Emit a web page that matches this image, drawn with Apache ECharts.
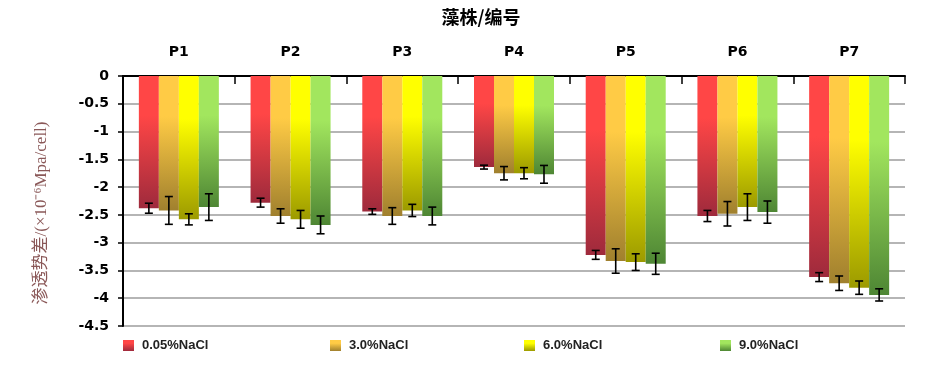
<!DOCTYPE html>
<html>
<head>
<meta charset="utf-8">
<script src="https://cdn.jsdelivr.net/npm/echarts@6/dist/echarts.min.js"></script>
<style>
html,body{margin:0;padding:0;background:#fff;}
#chart{width:932px;height:389px;}
</style>
</head>
<body>
<div id="chart"></div>
<script>
const categories = ['P1','P2','P3','P4','P5','P6','P7'];
const seriesNames = ['0.05%NaCl','3.0%NaCl','6.0%NaCl','9.0%NaCl'];
const yTicks = { min: -4.5, max: 0, interval: 0.5 };

const vals005 = [-2.38, -2.28, -2.44, -1.64, -3.22, -2.52, -3.62];
const vals30  = [-2.42, -2.52, -2.52, -1.75, -3.33, -2.48, -3.73];
const vals60  = [-2.58, -2.58, -2.42, -1.75, -3.35, -2.36, -3.81];
const vals90  = [-2.36, -2.68, -2.52, -1.77, -3.38, -2.45, -3.94];

const err005 = [0.09, 0.08, 0.05, 0.035, 0.08, 0.10, 0.08];
const err30  = [0.25, 0.13, 0.15, 0.12, 0.22, 0.22, 0.13];
const err60  = [0.10, 0.16, 0.11, 0.10, 0.15, 0.24, 0.12];
const err90  = [0.24, 0.16, 0.16, 0.16, 0.19, 0.20, 0.11];

const allVals = [vals005, vals30, vals60, vals90];
const allErrs = [err005, err30, err60, err90];

const gradStops = [
  ['#ff4646', '#9e2a3c'],
  ['#ffcb45', '#a0802e'],
  ['#ffff00', '#9c9a00'],
  ['#a2e65e', '#4e8634']
];
const legendLeft = [123, 330, 524, 720];

const BAR_W = 20;
const chart = echarts.init(document.getElementById('chart'), null, {renderer:'canvas'});

const series = [];
allVals.forEach((v, i) => {
  series.push({
    name: seriesNames[i],
    type: 'bar',
    data: v,
    barWidth: BAR_W,
    barGap: '0%',
    itemStyle: {
      color: new echarts.graphic.LinearGradient(0, 0, 0, 1, [
        {offset: 0, color: gradStops[i][0]},
        {offset: 0.3, color: gradStops[i][0]},
        {offset: 1, color: gradStops[i][1]}
      ])
    },
    z: 2
  });
});
allVals.forEach((v, i) => {
  series.push({
    type: 'custom',
    name: seriesNames[i] + ' err',
    data: v.map((val, k) => [k, val, allErrs[i][k]]),
    z: 5,
    silent: true,
    renderItem: function (params, api) {
      const k = api.value(0), val = api.value(1), e = api.value(2);
      const hi = api.coord([k, val + e]);
      const lo = api.coord([k, val - e]);
      const x = hi[0] + (i - 1.5) * BAR_W;
      const cap = 4;
      const st = {stroke: '#000', lineWidth: 1.6};
      return {
        type: 'group',
        children: [
          {type: 'line', shape: {x1: x, y1: hi[1], x2: x, y2: lo[1]}, style: st},
          {type: 'line', shape: {x1: x - cap, y1: hi[1], x2: x + cap, y2: hi[1]}, style: st},
          {type: 'line', shape: {x1: x - cap, y1: lo[1], x2: x + cap, y2: lo[1]}, style: st}
        ]
      };
    }
  });
});

const legends = seriesNames.map((n, i) => ({
  data: [n],
  left: legendLeft[i],
  top: 339,
  padding: 0,
  icon: 'rect',
  itemWidth: 11,
  itemHeight: 11,
  itemGap: 0,
  selectedMode: false,
  textStyle: {fontFamily: 'Liberation Sans', fontWeight: 'bold', fontSize: 13, color: '#222', padding: [0,0,0,3]}
}));

chart.setOption({
  animation: false,
  backgroundColor: '#fff',
  title: {
    text: '藻株/编号',
    left: 476,
    textAlign: 'center',
    top: 3,
    textStyle: {fontFamily: 'Noto Sans CJK SC', fontWeight: 'bold', fontSize: 18, color: '#000'}
  },
  legend: legends,
  grid: {left: 123, right: 27, top: 76, bottom: 63},
  xAxis: {
    type: 'category',
    data: categories,
    position: 'top',
    boundaryGap: true,
    axisLine: {show: true, lineStyle: {color: '#000', width: 2}},
    axisTick: {show: true, inside: true, length: 8, lineStyle: {color: '#000', width: 1.5}},
    axisLabel: {margin: 17, fontFamily: 'DejaVu Sans', fontWeight: 'bold', fontSize: 14, color: '#000'},
    splitLine: {show: false}
  },
  yAxis: {
    type: 'value',
    min: yTicks.min,
    max: yTicks.max,
    interval: yTicks.interval,
    axisLine: {show: true, lineStyle: {color: '#000', width: 2}},
    axisTick: {show: true, inside: false, length: 5, lineStyle: {color: '#000', width: 1.5}},
    axisLabel: {margin: 14, fontFamily: 'DejaVu Sans', fontWeight: 'bold', fontSize: 14, color: '#000'},
    splitLine: {show: true, lineStyle: {color: '#9c9c9c', width: 1.5}}
  },
  graphic: [{
    type: 'text',
    x: 42,
    y: 213,
    rotation: Math.PI / 2,
    style: {
      text: '渗透势差/(×10⁻⁶Mpa/cell)',
      fontFamily: 'Liberation Serif, Noto Sans CJK SC',
      fontSize: 17,
      fill: '#8a5858',
      align: 'center',
      verticalAlign: 'middle'
    }
  }],
  series: series
});
</script>
</body>
</html>
